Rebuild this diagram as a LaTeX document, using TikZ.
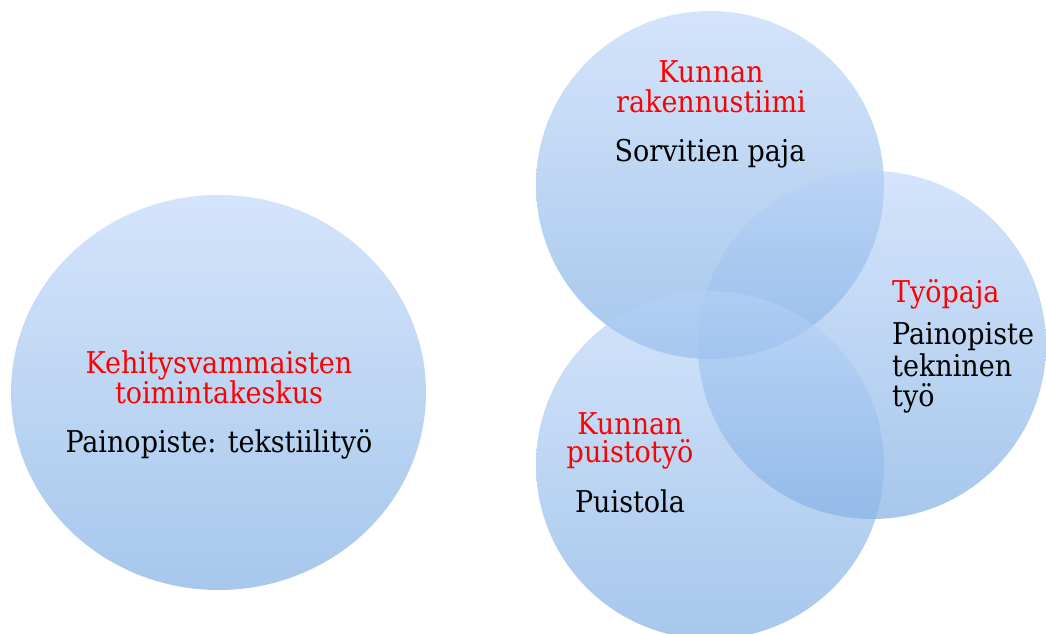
\documentclass[tikz,border=0pt]{standalone}
\usepackage{fontspec}
\setmainfont{DejaVu Serif Condensed}
\usetikzlibrary{shapes.geometric}
\definecolor{btop}{RGB}{183,210,248}
\definecolor{bbot}{RGB}{108,162,223}
\definecolor{tred}{RGB}{255,0,0}
\tikzset{
  bubble/.style={draw=none, inner sep=0pt, shading=axis, top color=btop, bottom color=bbot, shading angle=0, fill opacity=0.6},
  txtfont/.style={inner sep=0pt, font=\fontsize{30}{30}\selectfont},
  rtxt/.style={txtfont, anchor=base, text=tred},
  btxt/.style={txtfont, anchor=base, text=black},
  ltxt/.style={txtfont, anchor=base west, text=black},
  lrtxt/.style={txtfont, anchor=base west, text=tred}
}
\begin{document}
\begin{tikzpicture}[x=1pt,y=1pt]
\useasboundingbox (0,0) rectangle (1046,634);
% bubbles
\node[bubble, ellipse, minimum width=415pt, minimum height=395pt] (left) at (218.5,241.5) {};
\node[bubble, circle, minimum size=348pt] (top) at (710,449) {};
\node[bubble, circle, minimum size=348pt] (right) at (872,289) {};
\node[bubble, circle, minimum size=348pt] (bottom) at (710,169) {};
% left text
\node[rtxt] (l1) at (219,260) {Kehitysvammaisten};
\node[rtxt] (l2) at (219,230) {toimintakeskus};
\node[btxt] (l3) at (219,181) {Painopiste: tekstiilityö};
% top text
\node[rtxt] (t1) at (711,551) {Kunnan};
\node[rtxt] (t2) at (711,521) {rakennustiimi};
\node[btxt] (t3) at (710,472) {Sorvitien paja};
% right text
\node[lrtxt] (r1) at (892,331) {Työpaja};
\node[ltxt] (r2) at (892,289) {Painopiste};
\node[ltxt] (r3) at (892,257) {tekninen};
\node[ltxt] (r4) at (892,227) {työ};
% bottom text
\node[rtxt] (b1) at (630,199) {Kunnan};
\node[rtxt] (b2) at (630,171) {puistotyö};
\node[btxt] (b3) at (630,121) {Puistola};
\end{tikzpicture}
\end{document}
